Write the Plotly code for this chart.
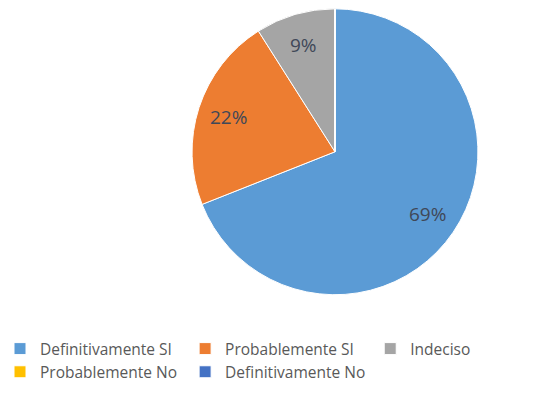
import math
import plotly.graph_objects as go

categories = ["Definitivamente SI", "Probablemente SI", "Indeciso", "Probablemente No", "Definitivamente No"]
values = [69, 22, 9, 0, 0]
colors = ["#5B9BD5", "#ED7D31", "#A5A5A5", "#FFC000", "#4472C4"]

W, H = 556, 401
dom_x = [0.3435, 0.8615]
dom_y = [0.265, 0.978]

fig = go.Figure(go.Pie(
    labels=categories,
    values=values,
    textinfo="none",
    sort=False,
    direction="clockwise",
    rotation=0,
    marker=dict(colors=colors, line=dict(color="white", width=1)),
    domain=dict(x=dom_x, y=dom_y),
    showlegend=True,
    hoverinfo="label+percent",
))

# percentage labels placed along each slice's mid angle
cx = (dom_x[0] + dom_x[1]) / 2 * W
cy = (dom_y[0] + dom_y[1]) / 2 * H
R = min((dom_x[1] - dom_x[0]) * W, (dom_y[1] - dom_y[0]) * H) / 2
total = sum(values)
cum = 0
for v in values:
    if v > 0:
        mid = (cum + v / 2) / total * 2 * math.pi
        r = 0.78 * R
        px = cx + r * math.sin(mid)
        py = cy + r * math.cos(mid)
        fig.add_annotation(x=px / W, y=py / H, xref="paper", yref="paper",
                           xanchor="center", yanchor="middle",
                           text=f"{round(v / total * 100)}%", showarrow=False,
                           font=dict(family="Open Sans", size=19, color="#404858"))
    cum += v

fig.update_layout(
    width=W, height=H,
    margin=dict(l=0, r=0, t=0, b=0),
    paper_bgcolor="white",
    plot_bgcolor="white",
    font=dict(family="Open Sans", size=15.5, color="#595959"),
    legend=dict(orientation="h", x=0, y=0.172, xanchor="left", yanchor="top",
                font=dict(family="Open Sans", size=15.5, color="#595959"),
                traceorder="normal", itemwidth=30),
)

fig.write_html("out.html", config={"displayModeBar": False},
               post_script="document.body.style.margin='0';")
